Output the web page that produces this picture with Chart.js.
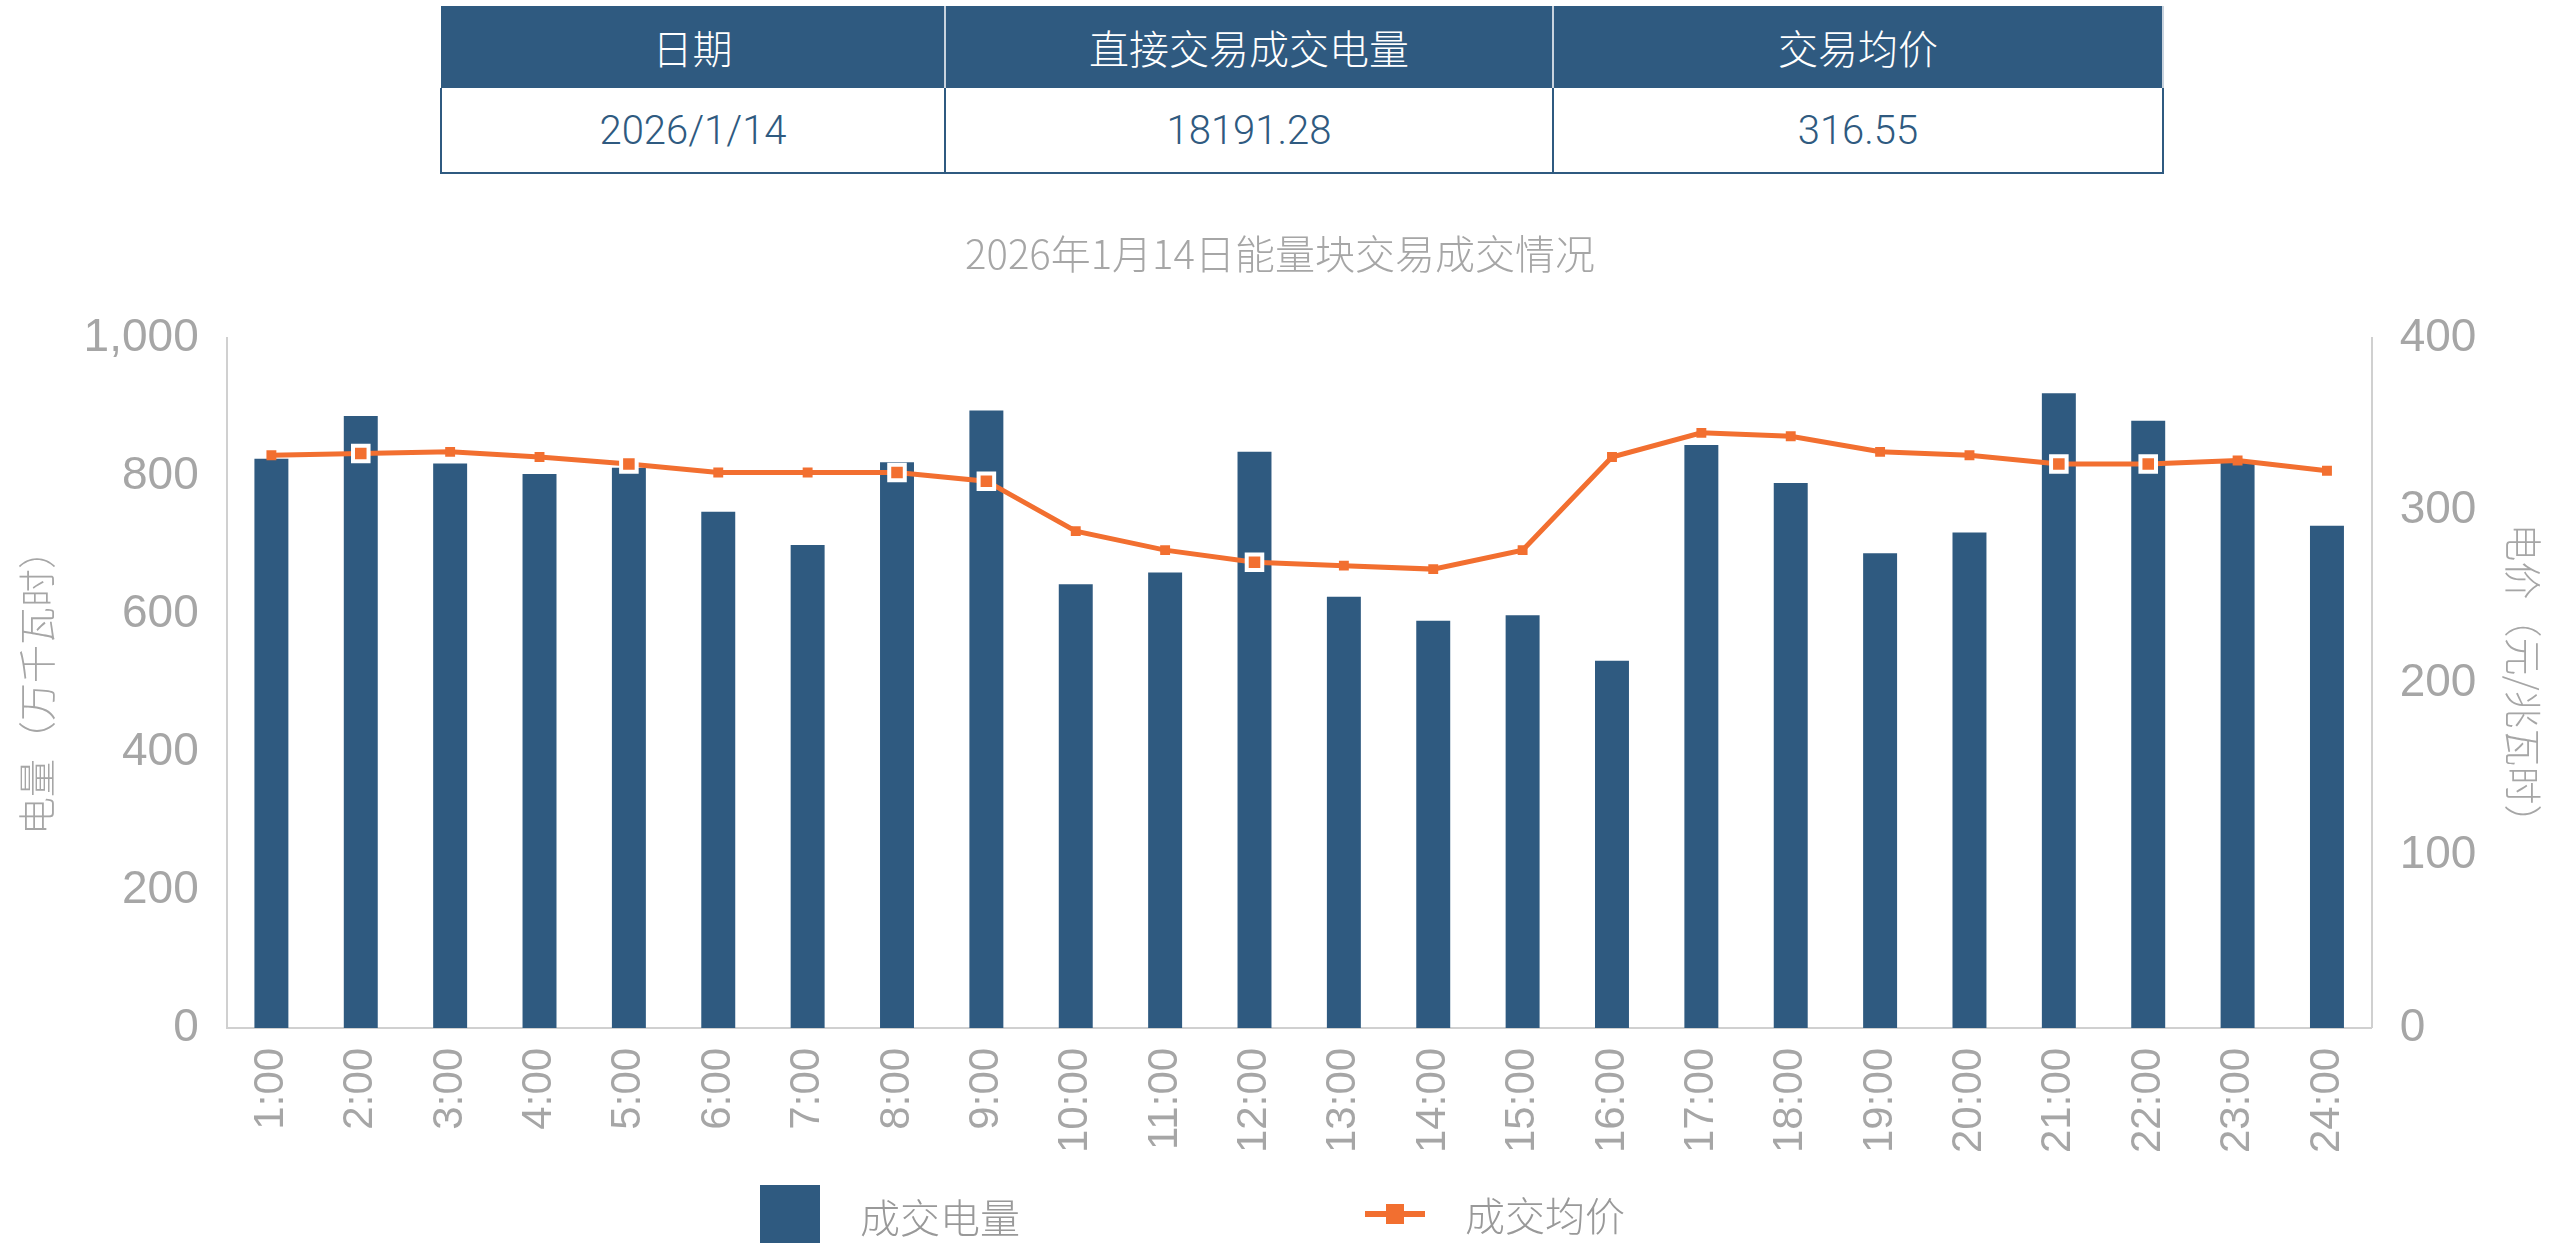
<!DOCTYPE html>
<html>
<head>
<meta charset="utf-8">
<script src="https://cdn.jsdelivr.net/npm/chart.js@4"></script>
<style>
  body { margin: 0; width: 2560px; height: 1243px; background: #fff; font-family: "Noto Sans CJK SC", "Noto Sans", sans-serif; position: relative; overflow: hidden; }
  table { position: absolute; left: 440px; top: 6px; width: 1722px; border-collapse: collapse; table-layout: fixed; }
  th { background: #2f5a80; color: #fff; font-weight: 300; font-size: 40px; height: 80px; border-right: 2px solid #c9d3de; }
  td { color: #2f5a80; font-size: 40px; height: 82px; text-align: center; border: 2px solid #2f5a80; border-top: none; font-family: Roboto, sans-serif; font-weight: 300; }
  #wrap { position: absolute; left: 0; top: 220px; width: 2560px; height: 985px; }
  .legend { position: absolute; top: 1185px; font-size: 40px; color: #999; display: flex; align-items: center; font-weight: 300; }
  .sw { width: 60px; height: 62px; background: #2f5a80; margin-right: 40px; }
  .ln { width: 60px; height: 6px; background: #f26f30; margin-right: 40px; position: relative; }
  .ln::after { content: ''; position: absolute; left: 21px; top: -7px; width: 18px; height: 20px; background: #f26f30; }
</style>
</head>
<body>
<table>
  <colgroup><col style="width:504px"><col style="width:608px"><col style="width:610px"></colgroup>
  <tr><th>日期</th><th>直接交易成交电量</th><th>交易均价</th></tr>
  <tr><td>2026/1/14</td><td>18191.28</td><td>316.55</td></tr>
</table>
<div id="wrap"><canvas id="c"></canvas></div>
<div class="legend" style="left:760px"><div class="sw"></div>成交电量</div>
<div class="legend" style="left:1365px"><div class="ln"></div>成交均价</div>
<script>
const hours = ['1:00','2:00','3:00','4:00','5:00','6:00','7:00','8:00','9:00','10:00','11:00','12:00',
  '13:00','14:00','15:00','16:00','17:00','18:00','19:00','20:00','21:00','22:00','23:00','24:00'];
const volume = [825, 887, 818, 803, 812, 748, 700, 820, 895, 643, 660, 835,
  625, 590, 598, 532, 845, 790, 688, 718, 920, 880, 820, 728];
const price = [332, 333, 334, 331, 327, 322, 322, 322, 317, 288, 277, 270,
  268, 266, 277, 331, 345, 343, 334, 332, 327, 327, 329, 323];
const outlined = [2, 5, 8, 9, 12, 21, 22];

const ctx = document.getElementById('c');
new Chart(ctx, {
  data: {
    labels: hours,
    datasets: [{
      type: 'line',
      label: '成交均价',
      data: price,
      yAxisID: 'y1',
      borderColor: '#f26f30',
      backgroundColor: '#f26f30',
      borderWidth: 5,
      pointStyle: 'rect',
      pointRadius: hours.map((h, i) => outlined.includes(i + 1) ? 11 : 7),
      pointBorderWidth: hours.map((h, i) => outlined.includes(i + 1) ? 4 : 0),
      pointBorderColor: '#fff',
      tension: 0
    }, {
      type: 'bar',
      label: '成交电量',
      data: volume,
      yAxisID: 'y',
      backgroundColor: '#2f5a80',
      barPercentage: 0.38,
      categoryPercentage: 1
    }]
  },
  options: {
    responsive: true,
    maintainAspectRatio: false,
    animation: false,
    layout: { padding: { left: 10, right: 10, top: 0, bottom: 40 } },
    plugins: {
      legend: { display: false },
      title: {
        display: true, text: '2026年1月14日能量块交易成交情况',
        color: '#a6a6a6', font: { size: 40, family: 'Noto Sans CJK SC', weight: 300 },
        padding: { top: 10, bottom: 60 }
      }
    },
    scales: {
      x: {
        grid: { display: false },
        border: { color: '#d0d0d0', width: 2 },
        ticks: { color: '#a6a6a6', font: { size: 42, weight: 300 }, maxRotation: 90, minRotation: 90, padding: 12 }
      },
      y: {
        min: 0, max: 1000,
        ticks: { stepSize: 200, color: '#a6a6a6', font: { size: 46, weight: 300 }, padding: 20 },
        grid: { display: false },
        border: { color: '#d0d0d0', width: 2 },
        title: { display: true, text: '电量（万千瓦时）', color: '#a6a6a6', font: { size: 38, family: 'Noto Sans CJK SC', weight: 300 } }
      },
      y1: {
        position: 'right',
        min: 0, max: 400,
        ticks: { stepSize: 100, color: '#a6a6a6', font: { size: 46, weight: 300 }, padding: 20 },
        grid: { display: false },
        border: { color: '#d0d0d0', width: 2 },
        title: { display: true, text: '电价（元/兆瓦时）', color: '#a6a6a6', font: { size: 38, family: 'Noto Sans CJK SC', weight: 300 } }
      }
    }
  }
});
</script>
</body>
</html>
